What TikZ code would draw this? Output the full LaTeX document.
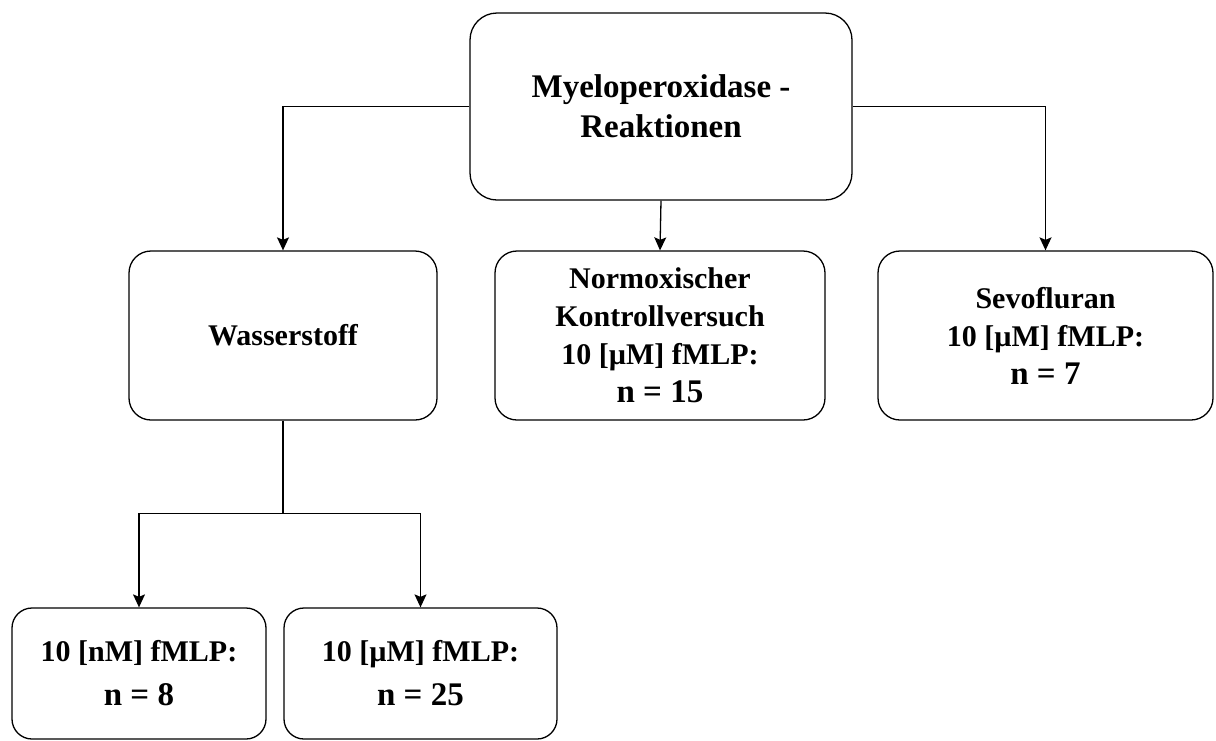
\documentclass[tikz,border=0pt]{standalone}
\usepackage{fontspec}
\setmainfont{Liberation Serif}
\usetikzlibrary{arrows.meta,positioning}

\begin{document}
\begin{tikzpicture}[
    x=1pt, y=-1pt,
    box/.style={draw, line width=1.3pt, rounded corners=22pt, align=center,
      inner sep=0pt, font=\bfseries\fontsize{30}{38}\selectfont},
    arr/.style={line width=1.3pt, -{Stealth[length=13pt,width=12pt,inset=2.5pt]}}
  ]
    \useasboundingbox (0,0) rectangle (1216,740);
    \node[box, rounded corners=27pt, minimum width=382pt, minimum height=187pt,
      font=\bfseries\fontsize{33}{40}\selectfont] (mpo) at (661,106.5)
      {Myeloperoxidase -\\Reaktionen};
    \node[box, minimum width=308pt, minimum height=169pt] (h2) at (283,335.5) {Wasserstoff};
    \node[box, minimum width=330pt, minimum height=169pt] (norm) at (660,335.5)
      {Normoxischer\\Kontrollversuch\\10 [µM] fMLP:\\{\fontsize{33}{40}\selectfont n = 15}};
    \node[box, minimum width=335pt, minimum height=169pt] (sevo) at (1045.5,335.5)
      {Sevofluran\\10 [µM] fMLP:\\{\fontsize{33}{40}\selectfont n = 7}};
    \node[box, rounded corners=20pt, minimum width=254pt, minimum height=131pt,
      font=\bfseries\fontsize{30}{44}\selectfont] (nm) at (139,673.5)
      {10 [nM] fMLP:\\{\fontsize{33}{40}\selectfont n = 8}};
    \node[box, rounded corners=20pt, minimum width=273pt, minimum height=131pt,
      font=\bfseries\fontsize{30}{44}\selectfont] (um) at (420.5,673.5)
      {10 [µM] fMLP:\\{\fontsize{33}{40}\selectfont n = 25}};

    \draw[arr] (mpo.west) -| (h2.north);
    \draw[arr] (mpo.south) -- (norm.north);
    \draw[arr] (mpo.east) -| (sevo.north);

    % split below Wasserstoff
    \coordinate (split) at ([yshift=-93pt]h2.south);
    \draw[line width=1.3pt] (h2.south) -- (split);
    \draw[arr] (split) -| (nm.north);
    \draw[arr] (split) -| (um.north);
\end{tikzpicture}
\end{document}
